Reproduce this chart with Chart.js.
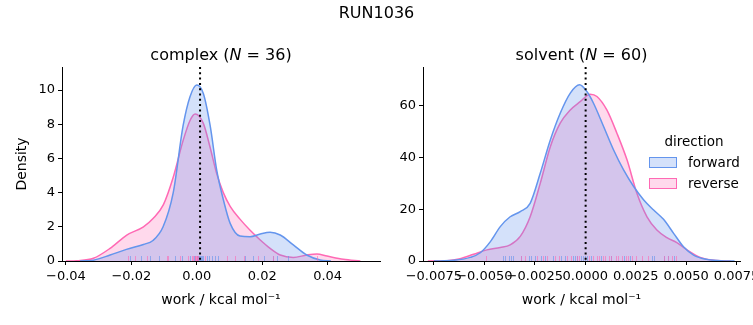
<!DOCTYPE html>
<html>
<head>
<meta charset="utf-8">
<script src="https://cdn.jsdelivr.net/npm/chart.js@4/dist/chart.umd.min.js"></script>
<style>
  body { margin: 0; background: #fff; }
  #wrap { position: relative; width: 753px; height: 325px; font-family: "DejaVu Sans", sans-serif; }
  #wrap canvas { position: absolute; left: 0; top: 0; }
  #suptitle { position: absolute; left: 0; top: 3px; width: 753px; text-align: center; font-size: 16px; color: #000; }
</style>
</head>
<body>
<div id="wrap">
  <canvas id="complexChart" width="753" height="325"></canvas>
  <canvas id="solventChart" width="753" height="325"></canvas>
  <div id="suptitle">RUN1036</div>
</div>
<script>
// KDE curves
const complexFwdX = [-0.0357, -0.0316, -0.0265, -0.0215, -0.0163, -0.0134, -0.0103, -0.0072, -0.0042, -0.0021, 0.0000, 0.0020, 0.0041, 0.0061, 0.0081, 0.0102, 0.0132, 0.0163, 0.0194, 0.0224, 0.0255, 0.0295, 0.0336, 0.0377, 0.0410];
const complexFwdY = [0, 0.05, 0.35, 0.68, 0.97, 1.2, 2.0, 4.0, 7.9, 9.6, 10.3, 9.8, 7.9, 5.3, 3.6, 2.2, 1.46, 1.42, 1.58, 1.68, 1.52, 0.94, 0.35, 0.06, 0];
const complexRevX = [-0.0400, -0.0367, -0.0316, -0.0265, -0.0214, -0.0163, -0.0133, -0.0102, -0.0072, -0.0041, -0.0020, -0.0005, 0.0020, 0.0040, 0.0061, 0.0081, 0.0102, 0.0132, 0.0163, 0.0194, 0.0224, 0.0255, 0.0295, 0.0336, 0.0367, 0.0398, 0.0448, 0.0500];
const complexRevY = [0, 0.02, 0.16, 0.74, 1.52, 2.0, 2.5, 3.3, 4.9, 7.1, 8.25, 8.6, 8.05, 6.7, 5.1, 4.0, 3.2, 2.45, 1.8, 1.23, 0.74, 0.35, 0.21, 0.35, 0.41, 0.29, 0.1, 0];

const solventFwdX = [-0.0075, -0.00653, -0.0057, -0.0052, -0.0047, -0.00421, -0.00372, -0.00322, -0.00273, -0.00223, -0.00173, -0.00124, -0.00074, -0.00028, 0.00008, 0.00041, 0.00091, 0.0014, 0.0019, 0.0024, 0.0029, 0.00339, 0.00388, 0.00438, 0.00487, 0.00537, 0.0060, 0.0067, 0.0074];
const solventFwdY = [0, 0.26, 1.4, 3.2, 7.5, 13.3, 17.1, 19.1, 22.3, 33.9, 46.8, 57.1, 64.9, 68.1, 65.5, 61.0, 52.0, 43.0, 35.2, 28.8, 23.6, 19.7, 16.1, 10.7, 5.5, 2.3, 0.65, 0.13, 0];
const solventRevX = [-0.0078, -0.00685, -0.0062, -0.00553, -0.00487, -0.00421, -0.00372, -0.00322, -0.00273, -0.00223, -0.00173, -0.00124, -0.00074, -0.00025, 0.00025, 0.00058, 0.00107, 0.00157, 0.00207, 0.00256, 0.00306, 0.00355, 0.00405, 0.00454, 0.00504, 0.0057, 0.00636, 0.0072];
const solventRevY = [0, 0.13, 0.9, 2.6, 4.3, 5.2, 6.2, 9.5, 17.1, 30.0, 44.2, 53.3, 58.4, 61.6, 64.5, 63.6, 58.4, 49.4, 39.1, 26.2, 17.1, 12.0, 9.0, 7.1, 4.3, 1.4, 0.26, 0];

// rug samples
const complexFwdRug = [-0.0204, -0.0171, -0.0143, -0.0117, -0.0066, -0.0046, -0.0020, -0.0008, -0.0004, 0.0000, 0.0001, 0.0004, 0.0007, 0.0010, 0.0013, 0.0016, 0.0020, 0.0031, 0.0038, 0.0046, 0.0056, 0.0066, 0.0148, 0.0173, 0.0204, 0.0234, 0.0245, 0.0280];
const complexRevRug = [-0.0209, -0.0189, -0.0153, -0.0092, -0.0087, -0.0051, -0.0026, -0.0015, -0.0011, -0.0007, -0.0005, -0.0002, 0.0000, 0.0002, 0.0004, 0.0025, 0.0092, 0.0117, 0.0143, 0.0188, 0.0234, 0.0368];
const solventFwdRug = [-0.0041, -0.0040, -0.0038, -0.0037, -0.0036, -0.0032, -0.0028, -0.0027, -0.0025, -0.0022, -0.0020, -0.0016, -0.0012, -0.0010, -0.0006, -0.0005, -0.0004, -0.0002, -0.0001, 0.0000, 0.0001, 0.0003, 0.0008, 0.0013, 0.0019, 0.0022, 0.0033, 0.0034, 0.0039, 0.0041, 0.0044];
const solventRevRug = [-0.0049, -0.0032, -0.0030, -0.0024, -0.0021, -0.0019, -0.0015, -0.0013, -0.0009, -0.0007, -0.0004, -0.0003, 0.0002, 0.0004, 0.0006, 0.0007, 0.0009, 0.0010, 0.0012, 0.0013, 0.0015, 0.0016, 0.0018, 0.0020, 0.0021, 0.0023, 0.0025, 0.0028, 0.0031, 0.0039, 0.0041, 0.0043, 0.0045];

// dotted reference lines
const complexVline = 0.0010;
const solventVline = 0.00002;

const complexXTicks = [-0.04, -0.02, 0.00, 0.02, 0.04];
const complexYTicks = [0, 2, 4, 6, 8, 10];
const solventXTicks = [-0.0075, -0.0050, -0.0025, 0.0000, 0.0025, 0.0050, 0.0075];
const solventYTicks = [0, 20, 40, 60];

const directions = ['forward', 'reverse'];
const lineColors = ['#6495ED', '#FF69B4'];
const fillColors = ['rgba(100,149,237,0.28)', 'rgba(255,105,180,0.25)'];

const FONT = '"DejaVu Sans", sans-serif';

function toPoints(xs, ys) {
  return xs.map((x, i) => ({ x: x, y: ys[i] }));
}

function fmt(v, digits) {
  return v.toFixed(digits).replace('-', '\u2212');
}

const overlayPlugin = {
  id: 'overlay',
  afterDatasetsDraw(chart, args, opts) {
    const ctx = chart.ctx;
    const xs = chart.scales.x;
    const area = chart.chartArea;
    ctx.save();
    // rug
    opts.rugs.forEach((vals, k) => {
      ctx.strokeStyle = lineColors[k];
      ctx.globalAlpha = 0.6;
      ctx.lineWidth = 1;
      vals.forEach(v => {
        const px = Math.round(xs.getPixelForValue(v)) + 0.5;
        ctx.beginPath();
        ctx.moveTo(px, area.bottom);
        ctx.lineTo(px, area.bottom - 5);
        ctx.stroke();
      });
    });
    ctx.globalAlpha = 1;
    // dotted vertical
    const vx = xs.getPixelForValue(opts.vline);
    ctx.strokeStyle = '#000';
    ctx.lineWidth = 2;
    ctx.setLineDash([2, 3.3]);
    ctx.beginPath();
    ctx.moveTo(vx, area.top);
    ctx.lineTo(vx, area.bottom);
    ctx.stroke();
    ctx.setLineDash([]);
    // title with italic N
    const parts = [
      ['normal', opts.name + ' ('],
      ['italic', 'N'],
      ['normal', ' = ' + opts.n + ')']
    ];
    ctx.fillStyle = '#000';
    ctx.textBaseline = 'alphabetic';
    let total = 0;
    parts.forEach(p => { ctx.font = p[0] + ' 16px ' + FONT; total += ctx.measureText(p[1]).width; });
    let tx = (area.left + area.right) / 2 - total / 2;
    parts.forEach(p => {
      ctx.font = p[0] + ' 16px ' + FONT;
      ctx.fillText(p[1], tx, 60);
      tx += ctx.measureText(p[1]).width;
    });
    // legend
    if (opts.legend) {
      ctx.font = '13.5px ' + FONT;
      ctx.textAlign = 'center';
      ctx.fillText('direction', 694, 146);
      ctx.textAlign = 'left';
      directions.forEach((d, k) => {
        const y = 157 + k * 21;
        ctx.fillStyle = fillColors[k];
        ctx.fillRect(649, y, 27, 10);
        ctx.strokeStyle = lineColors[k];
        ctx.lineWidth = 1;
        ctx.strokeRect(649.5, y + 0.5, 27, 10);
        ctx.fillStyle = '#000';
        ctx.fillText(d, 688, y + 10);
      });
    }
    ctx.restore();
  }
};

function makeChart(id, cfg) {
  const datasets = [
    [cfg.fwdX, cfg.fwdY],
    [cfg.revX, cfg.revY]
  ].map((s, k) => ({
    label: directions[k],
    data: toPoints(s[0], s[1]),
    borderColor: lineColors[k],
    backgroundColor: fillColors[k],
    borderWidth: 1.5,
    fill: 'origin',
    pointRadius: 0,
    cubicInterpolationMode: 'monotone'
  }));
  return new Chart(document.getElementById(id), {
    type: 'line',
    data: { datasets: datasets },
    plugins: [overlayPlugin],
    options: {
      responsive: false,
      animation: false,
      layout: { padding: cfg.padding },
      plugins: {
        legend: { display: false },
        tooltip: { enabled: false },
        overlay: {
          rugs: [cfg.fwdRug, cfg.revRug],
          vline: cfg.vline,
          name: cfg.name,
          n: cfg.n,
          legend: cfg.legend
        }
      },
      scales: {
        x: {
          type: 'linear',
          min: cfg.xMin,
          max: cfg.xMax,
          afterBuildTicks: s => { s.ticks = cfg.xTicks.map(v => ({ value: v })); },
          afterFit: s => { s.height = 64; s.paddingLeft = 0; s.paddingRight = 0; },
          grid: { display: true, drawOnChartArea: false, drawTicks: true, tickLength: 4, color: '#000' },
          border: { display: true, color: '#000', width: 1 },
          ticks: {
            autoSkip: false, maxRotation: 0, minRotation: 0, padding: 4,
            color: '#000', font: { family: FONT, size: 13 },
            callback: v => fmt(v, cfg.xDigits)
          },
          title: {
            display: true, text: 'work / kcal mol\u207B\u00B9', color: '#000',
            font: { family: FONT, size: 14 }, padding: { top: 0, bottom: 16 }
          }
        },
        y: {
          min: 0,
          max: cfg.yMax,
          afterBuildTicks: s => { s.ticks = cfg.yTicks.map(v => ({ value: v })); },
          afterFit: s => { s.width = cfg.yWidth; },
          grid: { display: true, drawOnChartArea: false, drawTicks: true, tickLength: 4, color: '#000' },
          border: { display: true, color: '#000', width: 1 },
          ticks: {
            padding: 3, color: '#000', font: { family: FONT, size: 13 },
            callback: v => String(v)
          },
          title: {
            display: cfg.yTitle, text: 'Density', color: '#000',
            font: { family: FONT, size: 14 }, padding: { top: 13.5, bottom: 0 }
          }
        }
      }
    }
  });
}

makeChart('complexChart', {
  fwdX: complexFwdX, fwdY: complexFwdY, revX: complexRevX, revY: complexRevY,
  fwdRug: complexFwdRug, revRug: complexRevRug, vline: complexVline,
  name: 'complex', n: 36,
  xMin: -0.0412, xMax: 0.0560, xTicks: complexXTicks, xDigits: 2,
  yMax: 11.35, yTicks: complexYTicks, yWidth: 62, yTitle: true,
  padding: { left: 0, top: 67, right: 373, bottom: 0 },
  legend: false
});

makeChart('solventChart', {
  fwdX: solventFwdX, fwdY: solventFwdY, revX: solventRevX, revY: solventRevY,
  fwdRug: solventFwdRug, revRug: solventRevRug, vline: solventVline,
  name: 'solvent', n: 60,
  xMin: -0.00804, xMax: 0.00767, xTicks: solventXTicks, xDigits: 4,
  yMax: 75, yTicks: solventYTicks, yWidth: 40, yTitle: false,
  padding: { left: 383, top: 67, right: 13, bottom: 0 },
  legend: true
});
</script>
</body>
</html>
